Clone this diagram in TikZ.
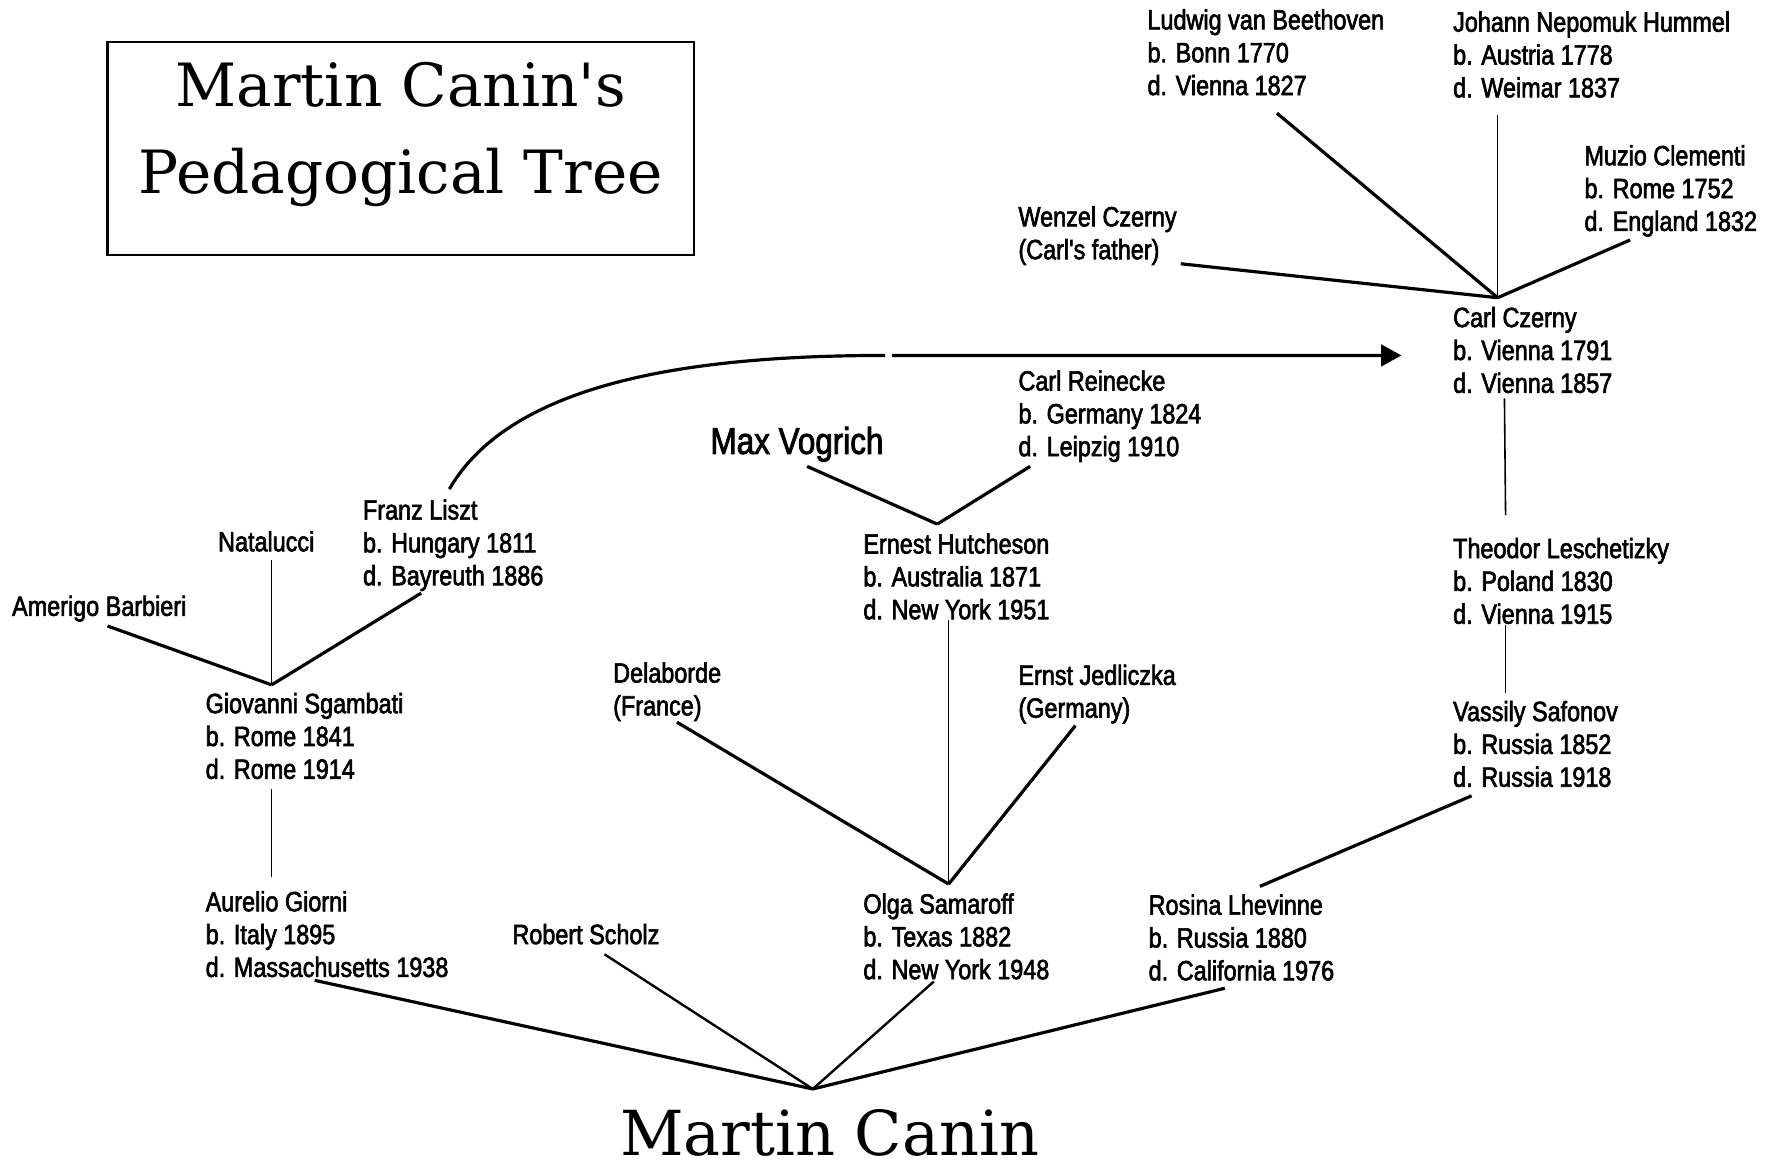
\documentclass[tikz,border=0pt]{standalone}
\usepackage{fontspec}
\newfontfamily\namefont{Liberation Sans}[FakeStretch=0.84,FakeBold=2.2]
\newfontfamily\titlefont{DejaVu Serif}
\usetikzlibrary{arrows.meta}
% lines of one entry, baseline on the first line
\newcommand\who[1]{\begin{tabular}[t]{@{}l@{}}#1\end{tabular}}

\begin{document}
\begin{tikzpicture}[x=0.1mm, y=-0.1mm,
    person/.style={anchor=base west, inner sep=0pt, font=\namefont\fontsize{7pt}{8.25pt}\selectfont},
    title/.style={align=center, inner sep=0pt, font=\titlefont\fontsize{15pt}{21.9pt}\selectfont},
    titlebox/.style={draw, line width=0.6pt, minimum width=51.8mm, minimum height=18.8mm, inner sep=0pt},
    link/.style={line width=0.8pt},
    midlink/.style={line width=0.6pt},
    stem/.style={line width=0.4pt},
    arrow/.style={line width=0.8pt, -{Triangle[length=1.8mm, width=1.9mm]}}
  ]
\useasboundingbox (0,0) rectangle (1568,1030);

% title
\node[titlebox] (box) at (354,131) {};
\node[title, anchor=base] (heading) at (354,171) {Martin Canin's\\Pedagogical Tree};
\node[title, anchor=base, font=\titlefont\fontsize{15.6pt}{20pt}\selectfont] (canin) at (733,1021) {Martin Canin};

% Czerny branch
\node[person] (beethoven) at (1013,26) {\who{Ludwig van Beethoven\\b. Bonn 1770\\d. Vienna 1827}};
\node[person] (hummel) at (1283,28) {\who{Johann Nepomuk Hummel\\b. Austria 1778\\d. Weimar 1837}};
\node[person] (clementi) at (1399,146) {\who{Muzio Clementi\\b. Rome 1752\\d. England 1832}};
\node[person] (wenzel) at (899,200) {\who{Wenzel Czerny\\(Carl's father)}};
\node[person] (czerny) at (1283,289) {\who{Carl Czerny\\b. Vienna 1791\\d. Vienna 1857}};
\node[person] (lesch) at (1283,493) {\who{Theodor Leschetizky\\b. Poland 1830\\d. Vienna 1915}};
\node[person] (safonov) at (1283,637) {\who{Vassily Safonov\\b. Russia 1852\\d. Russia 1918}};
\node[person] (rosina) at (1014,808) {\who{Rosina Lhevinne\\b. Russia 1880\\d. California 1976}};

% Hutcheson branch
\node[person] (reinecke) at (899,345) {\who{Carl Reinecke\\b. Germany 1824\\d. Leipzig 1910}};
\node[person, font=\namefont\fontsize{9.4pt}{10pt}\selectfont] (vogrich) at (627,401) {Max Vogrich};
\node[person] (hutcheson) at (762,489) {\who{Ernest Hutcheson\\b. Australia 1871\\d. New York 1951}};
\node[person] (delaborde) at (541,603) {\who{Delaborde\\(France)}};
\node[person] (jedliczka) at (899,605) {\who{Ernst Jedliczka\\(Germany)}};
\node[person] (olga) at (762,807) {\who{Olga Samaroff\\b. Texas 1882\\d. New York 1948}};

% Sgambati branch
\node[person] (liszt) at (320,459) {\who{Franz Liszt\\b. Hungary 1811\\d. Bayreuth 1886}};
\node[person] (natalucci) at (192,487) {Natalucci};
\node[person] (barbieri) at (10,544) {Amerigo Barbieri};
\node[person] (sgambati) at (181,630) {\who{Giovanni Sgambati\\b. Rome 1841\\d. Rome 1914}};
\node[person] (giorni) at (181,805) {\who{Aurelio Giorni\\b. Italy 1895\\d. Massachusetts 1938}};
\node[person] (scholz) at (452,834) {Robert Scholz};

% junctions
\coordinate (czerny-j) at ([shift={(40,-26)}]czerny.base west);
\coordinate (hutcheson-j) at ([shift={(66,-26)}]hutcheson.base west);
\coordinate (olga-j) at ([shift={(76,-26)}]olga.base west);
\coordinate (sgambati-j) at ([shift={(59,-25)}]sgambati.base west);
\coordinate (canin-j) at ([shift={(-15,-59)}]canin.base);
\coordinate (bend) at (782,314);

\draw[link] ([shift={(115,74)}]beethoven.base west) -- (czerny-j);
\draw[stem] ([shift={(40,74)}]hummel.base west) -- (czerny-j);
\draw[link] ([shift={(41,66)}]clementi.base west) -- (czerny-j);
\draw[link] ([shift={(144,33)}]wenzel.base west) -- (czerny-j);
\draw[stem] ([shift={(46,63)}]czerny.base west) -- ([shift={(47,-38)}]lesch.base west);
\draw[stem] ([shift={(47,59)}]lesch.base west) -- ([shift={(47,-25)}]safonov.base west);
\draw[link] ([shift={(17,66)}]safonov.base west) -- ([shift={(99,-25)}]rosina.base west);
\draw[link] ([shift={(68,65)}]rosina.base west) -- (canin-j);

\draw[link] ([shift={(11,67)}]reinecke.base west) -- (hutcheson-j);
\draw[link] ([shift={(86,11)}]vogrich.base west) -- (hutcheson-j);
\draw[stem] ([shift={(76,59)}]hutcheson.base west) -- (olga-j);
\draw[link] ([shift={(57,35)}]delaborde.base west) -- (olga-j);
\draw[link] ([shift={(51,36)}]jedliczka.base west) -- (olga-j);
\draw[midlink] ([shift={(63,60)}]olga.base west) -- (canin-j);

\draw[link] ([shift={(52,65)}]liszt.base west) -- (sgambati-j);
\draw[stem] ([shift={(48,8)}]natalucci.base west) -- (sgambati-j);
\draw[link] ([shift={(85,9)}]barbieri.base west) -- (sgambati-j);
\draw[stem] ([shift={(59,67)}]sgambati.base west) -- ([shift={(59,-30)}]giorni.base west);
\draw[link] ([shift={(97,61)}]giorni.base west) -- (canin-j);
\draw[midlink] ([shift={(82,9)}]scholz.base west) -- (canin-j);

% Liszt studied with Czerny
\draw[arrow] ([shift={(77,-27)}]liszt.base west) .. controls +(55,-95) and +(-170,0) .. (bend)
  ++(6,0) -- ([shift={(-45,25)}]czerny.base west);
\end{tikzpicture}
\end{document}
